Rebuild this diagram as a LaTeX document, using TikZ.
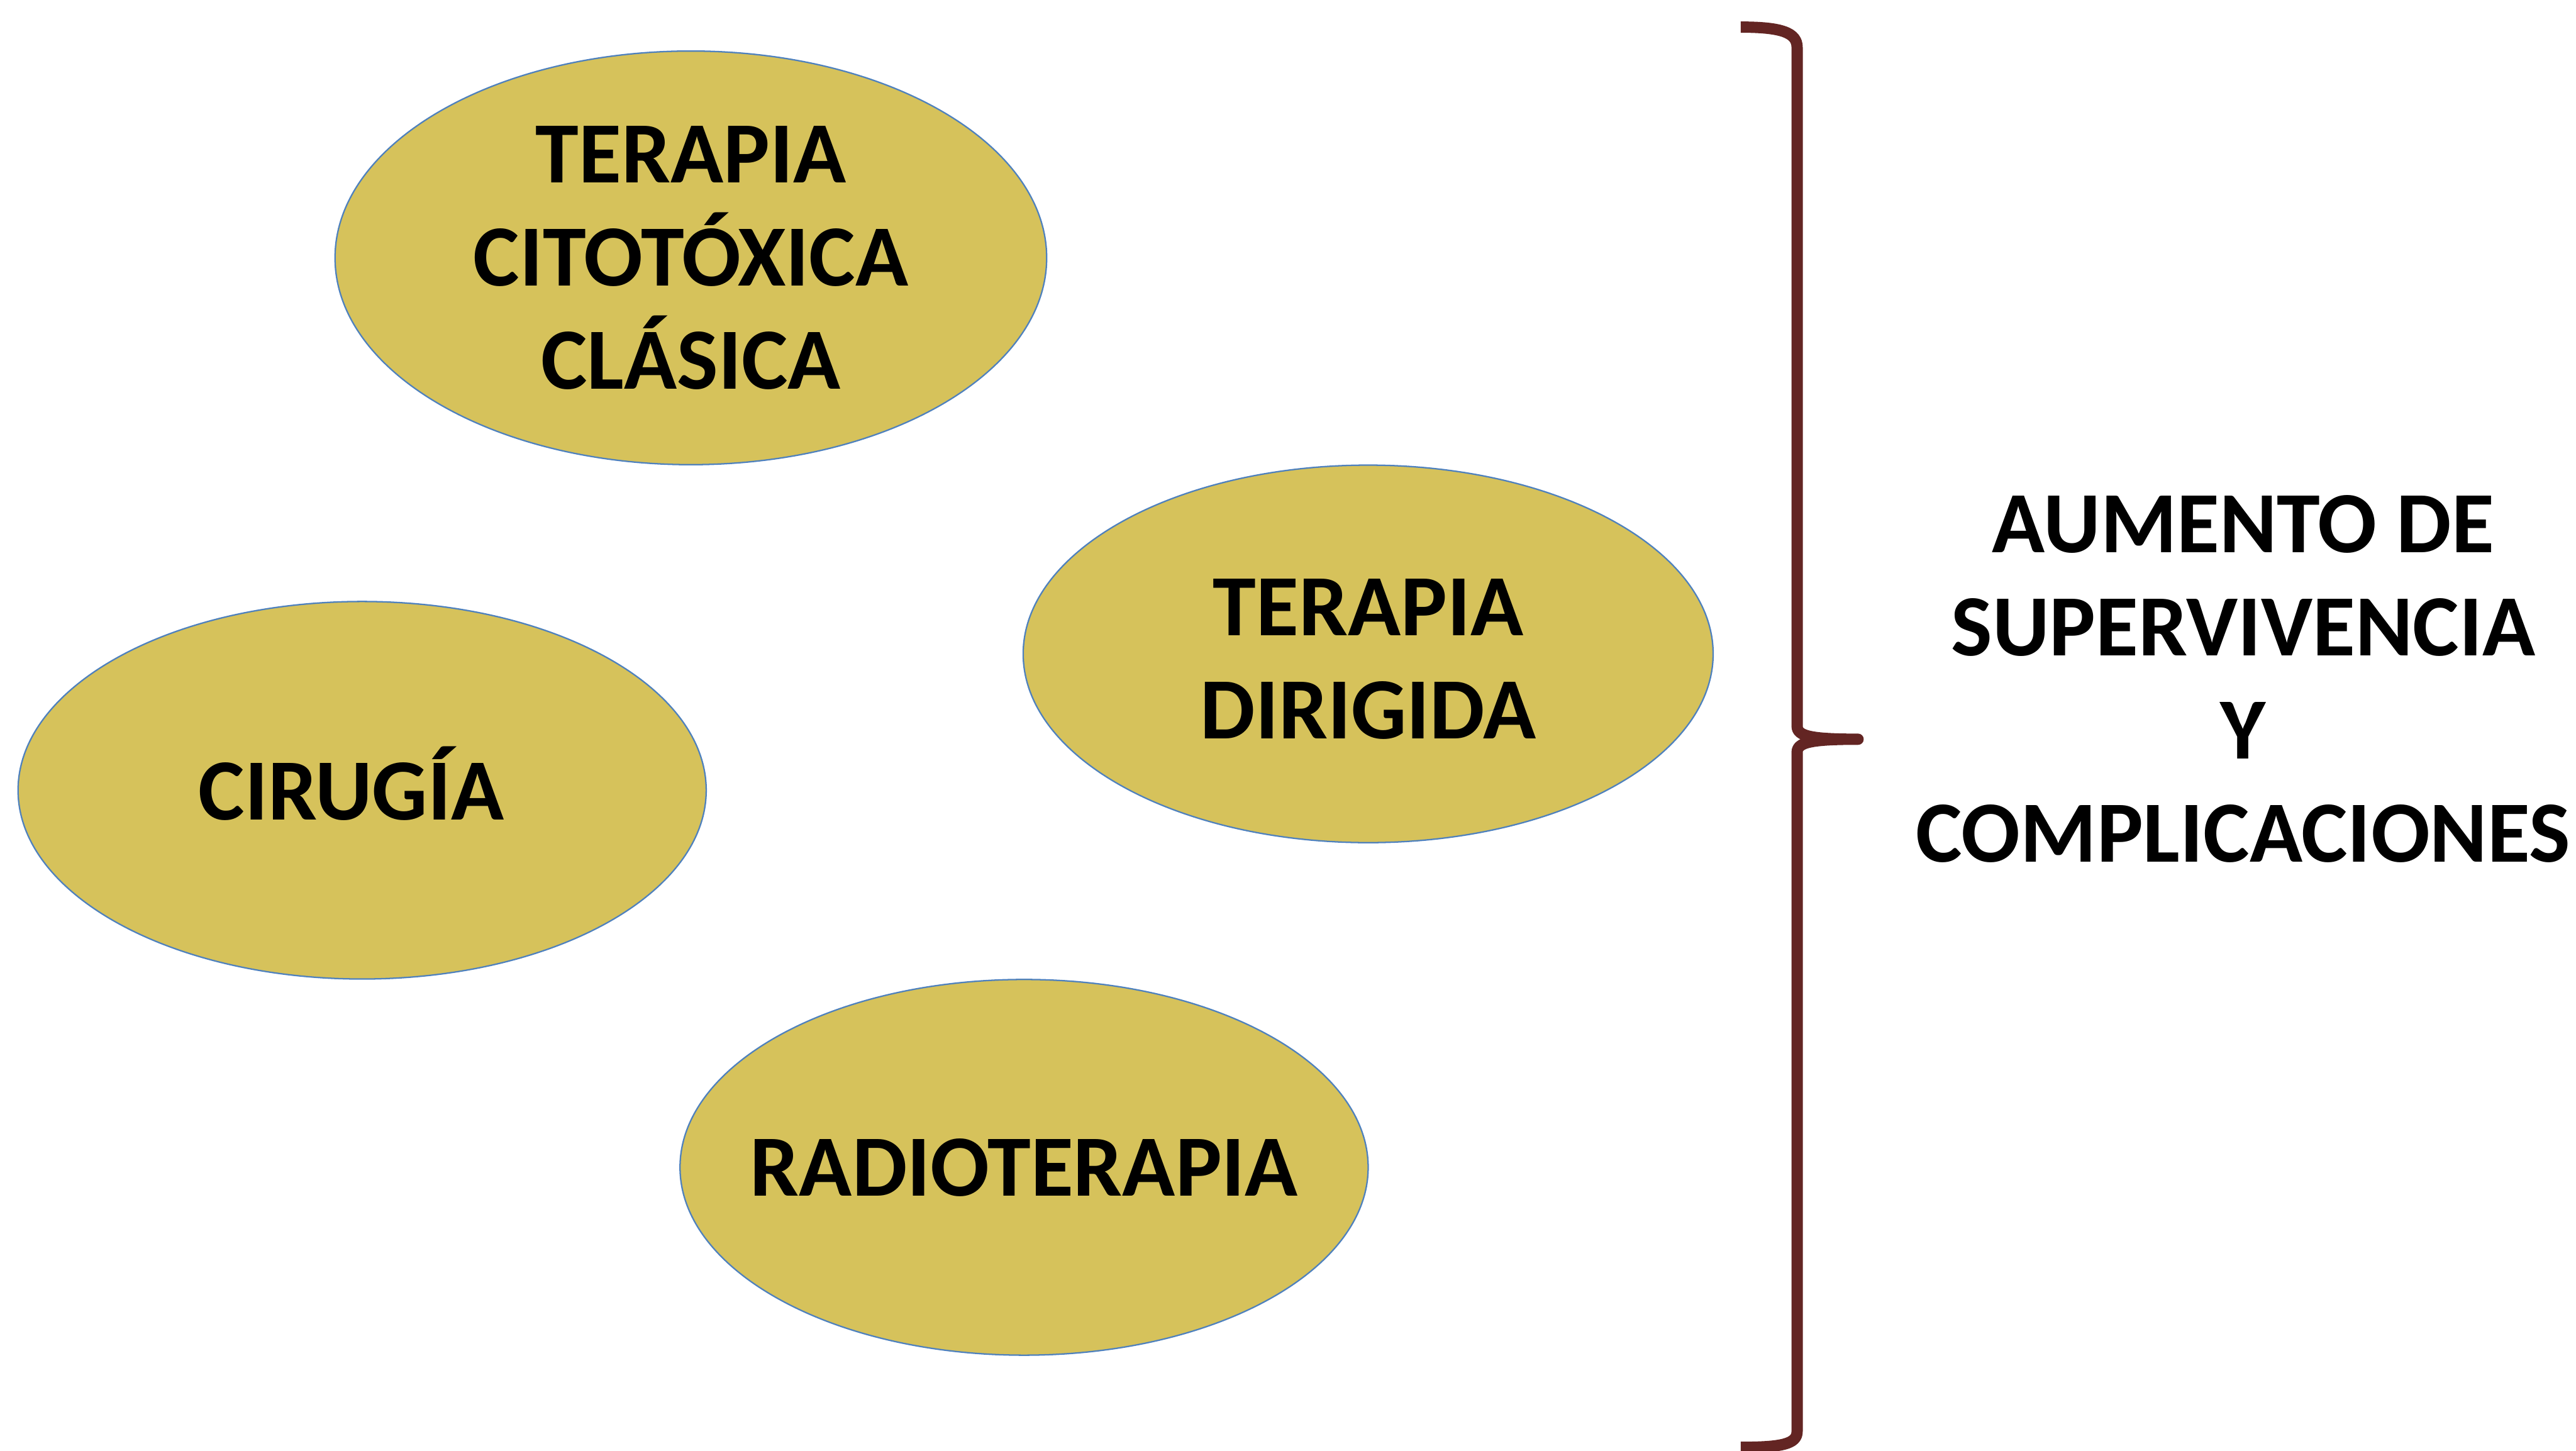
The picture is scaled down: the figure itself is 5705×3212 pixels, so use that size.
\documentclass[tikz,border=0pt]{standalone}
\usepackage{fontspec}
\setmainfont{Carlito}
\usetikzlibrary{shapes.geometric}
\definecolor{ellfill}{RGB}{214,194,91}
\definecolor{ellline}{RGB}{79,129,189}
\definecolor{bracecol}{RGB}{99,37,35}
\tikzset{
  blob/.style={ellipse, draw=ellline, line width=0.9pt, fill=ellfill, inner sep=0pt},
  blobtext/.style={align=center, font=\fontsize{55}{65}\selectfont\bfseries, inner sep=0pt},
}
\begin{document}
\begin{tikzpicture}[x=0.1mm,y=-0.1mm]
\useasboundingbox (0,0) rectangle (5705,3212);
\node[blob, minimum width=157.6mm, minimum height=91.6mm] (e1) at (1530,571) {};
\node[blob, minimum width=152.8mm, minimum height=83.6mm] (e2) at (3030,1448) {};
\node[blob, minimum width=152.4mm, minimum height=83.6mm] (e3) at (802,1750) {};
\node[blob, minimum width=152.4mm, minimum height=83.2mm] (e4) at (2268,2585) {};
\node[blobtext] (t1) at (e1.center) {TERAPIA\\CITOTÓXICA\\CLÁSICA};
\node[blobtext, yshift=-1.1mm] (t2) at (e2.center) {TERAPIA\\DIRIGIDA};
\node[blobtext, yshift=1.5mm, xshift=-2.4mm] (t3) at (e3.center) {CIRUGÍA};
\node[blobtext] (t4) at (e4.center) {RADIOTERAPIA};
\node[blobtext] (res) at (4968,1503) {AUMENTO DE\\SUPERVIVENCIA\\Y\\COMPLICACIONES};
\draw[bracecol, line width=7.1pt, line join=round]
  (3855,60) .. controls (3945,60) and (3980,72) .. (3980,105)
  -- (3980,1608) .. controls (3980,1630) and (4010,1637) .. (4115,1637)
  .. controls (4010,1637) and (3980,1644) .. (3980,1666)
  -- (3980,3170) .. controls (3980,3198) and (3945,3205) .. (3855,3205);
\end{tikzpicture}
\end{document}
